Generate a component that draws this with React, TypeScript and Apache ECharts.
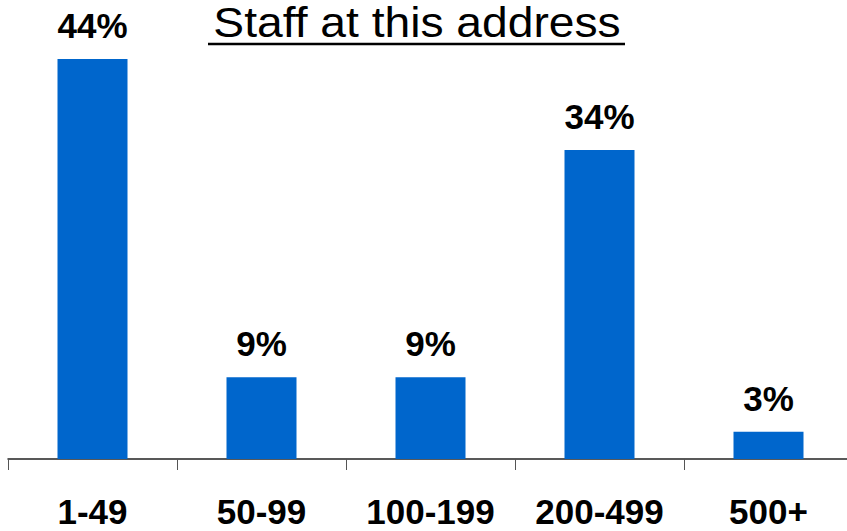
import React, { useEffect, useRef } from "react";
import * as echarts from "echarts";

const categories = ["1-49", "50-99", "100-199", "200-499", "500+"];
const values = [44, 9, 9, 34, 3];
const titleText = "Staff at this address";

export default function App() {
  const ref = useRef<HTMLDivElement>(null);
  useEffect(() => {
    if (!ref.current) return;
    const chart = echarts.init(ref.current, null, { renderer: "svg" });
    chart.setOption({
      animation: false,
      backgroundColor: "#ffffff",
      grid: { left: 8, width: 845, top: 59, bottom: 72, containLabel: false },
      xAxis: {
        type: "category",
        data: categories,
        axisLine: { show: true, lineStyle: { color: "#222", width: 1.5 } },
        axisTick: { show: true, length: 11, lineStyle: { color: "#555", width: 1 } },
        axisLabel: {
          margin: 35,
          color: "#000",
          fontFamily: "Liberation Sans, Arial, sans-serif",
          fontWeight: "bold",
          fontSize: 35,
        },
      },
      yAxis: { type: "value", min: 0, max: 44, show: false, splitLine: { show: false } },
      series: [
        {
          type: "bar",
          data: values,
          barWidth: 70,
          itemStyle: { color: "#0066cc" },
          label: {
            show: true,
            position: "top",
            distance: 16,
            formatter: "{c}%",
            color: "#000",
            fontFamily: "Liberation Sans, Arial, sans-serif",
            fontWeight: "bold",
            fontSize: 35,
          },
        },
      ],
      graphic: [
        {
          type: "text",
          x: 417,
          y: 1,
          scaleX: 1.1,
          style: {
            text: titleText,
            fill: "#000",
            font: "42px 'Liberation Sans', Arial, sans-serif",
            textAlign: "center",
            textVerticalAlign: "top",
          },
        },
        {
          type: "line",
          shape: { x1: 208, y1: 44, x2: 625, y2: 44 },
          style: { stroke: "#000", lineWidth: 2.7 },
        },
      ],
    });
    return () => chart.dispose();
  }, []);
  return (
    <div style={{ width: 847, height: 531, position: "absolute", left: 0, top: 0, overflow: "hidden" }}>
      <div ref={ref} style={{ width: 860, height: 531 }} />
    </div>
  );
}
